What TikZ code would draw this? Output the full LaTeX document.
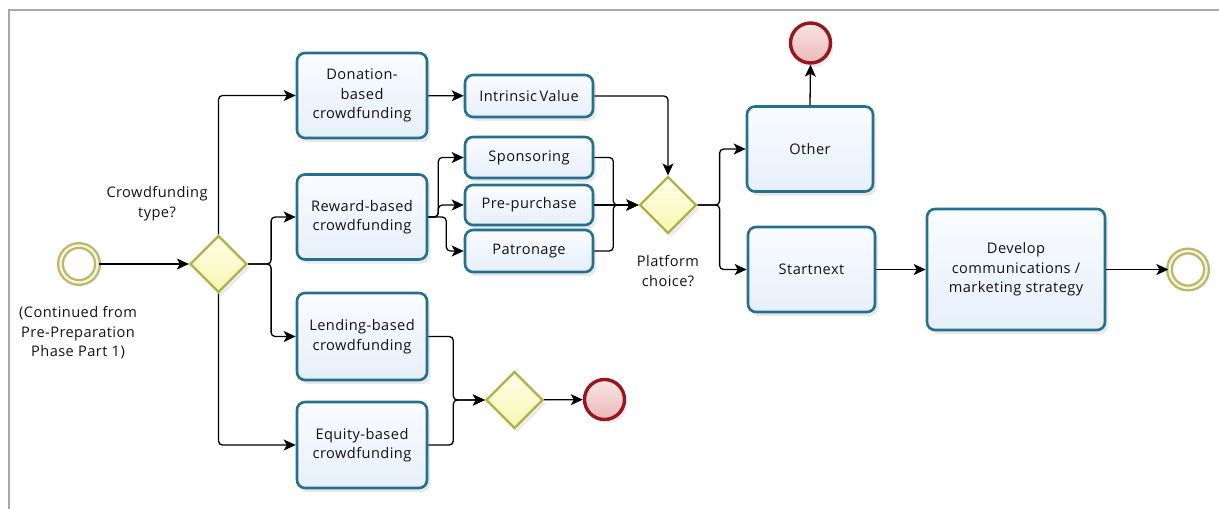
\documentclass[tikz,border=0pt]{standalone}
\usepackage{fontspec}
\setmainfont{Open Sans}[LetterSpace=3]
\usetikzlibrary{shapes.geometric,arrows.meta,shadows,calc}

\definecolor{frameline}{RGB}{168,168,168}
\definecolor{taskline}{RGB}{36,112,142}
\definecolor{taskA}{RGB}{250,252,255}
\definecolor{taskB}{RGB}{230,239,250}
\definecolor{gateline}{RGB}{176,176,72}
\definecolor{gateA}{RGB}{255,255,232}
\definecolor{gateB}{RGB}{246,246,178}
\definecolor{startline}{RGB}{188,182,108}
\definecolor{startgap}{RGB}{246,244,214}
\definecolor{endline}{RGB}{150,24,30}
\definecolor{endA}{RGB}{250,228,228}
\definecolor{endB}{RGB}{234,184,186}
\definecolor{ink}{RGB}{18,18,18}

\begin{document}
\begin{tikzpicture}[x=1pt,y=-1pt,
  every node/.style={font=\fontsize{14.6}{19.5}\selectfont, text=ink, align=center},
  task/.style={rectangle, rounded corners=8pt, draw=taskline, line width=2.6pt,
    top color=taskA, bottom color=taskB, inner sep=2pt,
    drop shadow={opacity=0.18, shadow xshift=3pt, shadow yshift=-4pt}},
  gateway/.style={diamond, draw=gateline, line width=2.2pt, top color=gateA, bottom color=gateB,
    minimum width=57pt, minimum height=57pt, inner sep=0pt,
    drop shadow={opacity=0.15, shadow xshift=3pt, shadow yshift=-4pt}},
  startev/.style={circle, draw=startline, double=startgap, double distance=2.4pt, line width=2.3pt,
    fill=white, minimum size=37pt, inner sep=0pt,
    drop shadow={opacity=0.12, shadow xshift=3pt, shadow yshift=-3pt}},
  endev/.style={circle, draw=endline, line width=3.4pt, top color=endA, bottom color=endB,
    minimum size=40pt, inner sep=0pt,
    drop shadow={opacity=0.15, shadow xshift=3pt, shadow yshift=-4pt}},
  flow/.style={draw=black, line width=1.3pt, rounded corners=4pt,
    -{Stealth[length=12pt,width=11pt,inset=3pt]}},
  lbl/.style={inner sep=0pt}
]
\useasboundingbox (0,0) rectangle (1219,509);

% outer frame
\draw[frameline, line width=2pt] (9,509) -- (9,10) -- (1219,10);

% events
\node[startev] (start) at (79,264) {};
\node[endev] (endtop) at (810.5,43) {};
\node[endev] (endmid) at (604.5,399.5) {};
\node[startev] (endright) at (1188,269.5) {};

% gateways
\node[gateway] (gw1) at (218.5,264) {};
\node[gateway] (gw2) at (668,205) {};
\node[gateway] (gw3) at (514.5,400) {};

% tasks
\node[task, minimum width=130pt, minimum height=85pt] (donation) at (362,95.5) {Donation-\\based\\crowdfunding};
\node[task, minimum width=130pt, minimum height=85pt] (reward) at (362,217) {Reward-based\\crowdfunding};
\node[task, minimum width=130pt, minimum height=87pt] (lending) at (362,336.5) {Lending-based\\crowdfunding};
\node[task, minimum width=130pt, minimum height=86pt] (equity) at (362,445) {Equity-based\\crowdfunding};
\node[task, minimum width=128pt, minimum height=42pt] (intrinsic) at (529,96) {Intrinsic\,Value};
\node[task, minimum width=128pt, minimum height=41pt] (sponsoring) at (529,157.5) {Sponsoring};
\node[task, minimum width=128pt, minimum height=40pt] (prepurchase) at (529,205) {Pre-purchase};
\node[task, minimum width=128pt, minimum height=42pt] (patronage) at (529,251) {Patronage};
\node[task, minimum width=126pt, minimum height=85pt] (other) at (810,149) {Other};
\node[task, minimum width=127pt, minimum height=85pt] (startnext) at (811.5,269.5) {Startnext};
\node[task, minimum width=178pt, minimum height=121pt] (develop) at (1016,269.5) {Develop\\communications /\\marketing strategy};

% labels
\node[lbl] (lblgw1) at (157,203.5) {Crowdfunding\\type?};
\node[lbl] (lblstart) at (78,333) {(Continued from\\Pre-Preparation\\Phase Part 1)};
\node[lbl] (lblgw2) at (668,271) {Platform\\choice?};

% sequence flows
\draw[flow] (start) -- (gw1);
\draw[flow] (gw1.north) |- (donation.west);
\draw[flow] (gw1.east) -- ++(23,0) |- (reward.west);
\draw[flow] (gw1.east) -- ++(23,0) |- (lending.west);
\draw[flow] (gw1.south) |- (equity.west);

\draw[flow] (donation) -- (intrinsic);
\draw[flow] (intrinsic.east) -| (gw2.north);

\draw[flow] (reward.east) -- ++(10,0) |- (sponsoring.west);
\draw[flow] (reward.east) -- ++(10,0) |- (prepurchase.west);
\draw[flow] (reward.east) -- ++(18,0) |- (patronage.west);

\draw[flow] (sponsoring.east) -- ++(19,0) |- (gw2.west);
\draw[flow] (prepurchase.east) -- (gw2.west);
\draw[flow] (patronage.east) -- ++(19,0) |- (gw2.west);

\draw[flow] (gw2.east) -- ++(22,0) |- (other.west);
\draw[flow] (gw2.east) -- ++(22,0) |- (startnext.west);
\draw[flow] (other.north) -- (endtop.south);
\draw[flow] (startnext) -- (develop);
\draw[flow] (develop) -- (endright);

\draw[flow] (lending.east) -- ++(25,0) |- (gw3.west);
\draw[flow] (equity.east) -- ++(25,0) |- (gw3.west);
\draw[flow] (gw3) -- (endmid);
\end{tikzpicture}
\end{document}
